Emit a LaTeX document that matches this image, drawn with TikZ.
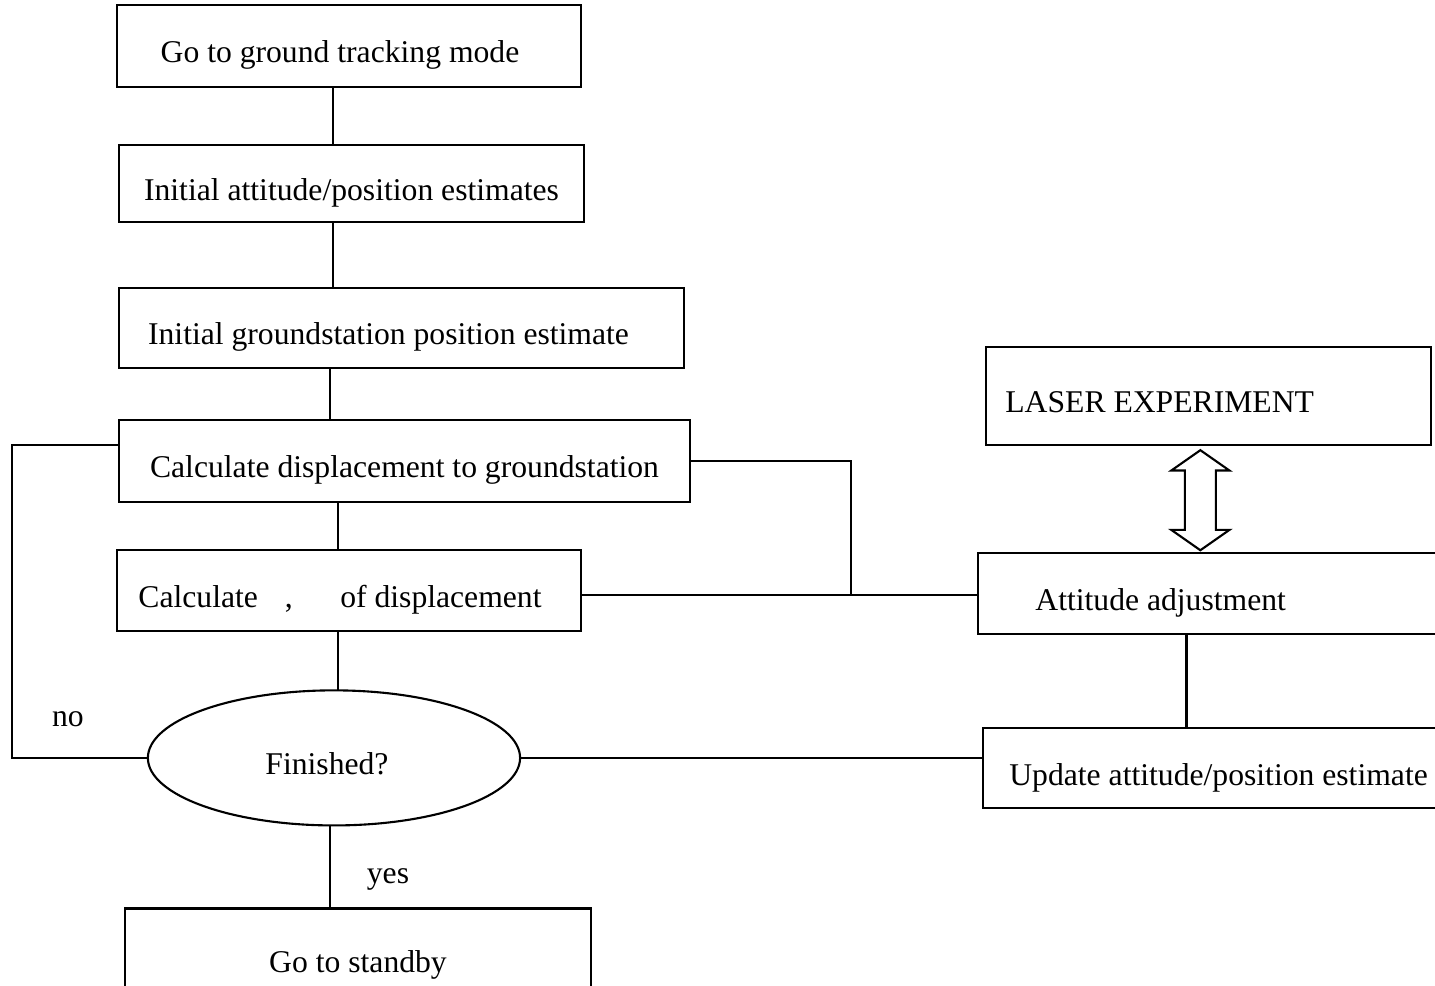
\documentclass[tikz,border=0pt]{standalone}
\usepackage{fontspec}
\setmainfont{Liberation Serif}
\usepackage{tikz}
\usetikzlibrary{positioning, shapes.geometric, shapes.arrows, calc}
\tikzset{
    base/.style={
        font=\fontsize{9}{11}\selectfont,
        align=center
    },
    box/.style={
        base,
        rectangle,
        draw=black,
        line width=0.6pt,
        inner sep=0pt,
        outer sep=0pt,
        text height=1.2em,
        text depth=0.25em
    },
    sidebox/.style={
        box,
        anchor=west
    },
    decision/.style={
        base,
        ellipse,
        draw=black,
        line width=0.6pt,
        inner sep=0pt,
        outer sep=0pt,
        text height=1.2em,
        text depth=0.25em
    },
    swap/.style={
        double arrow,
        draw=black,
        line width=0.6pt,
        inner xsep=0pt,
        inner ysep=0.145cm,
        outer sep=0pt,
        rotate=90,
        minimum height=1cm,
        double arrow head extend=0.135cm,
        double arrow tip angle=110
    },
    link/.style={
        line width=0.6pt,
        color=black
    },
    note/.style={
        base,
        inner sep=1pt
    }
}

\begin{document}
\begin{tikzpicture}[x=0.01cm, y=-0.01cm]
  \useasboundingbox (0,0) rectangle (1435,986);
  \clip (0,0) rectangle (1435,986);

  % Main column
  \node[box, minimum width=4.64cm, minimum height=0.82cm] (goto) at (349,46) {Go to ground tracking mode\hspace{0.18cm}};
  \node[box, minimum width=4.65cm, minimum height=0.77cm, below=0.58cm of goto, xshift=0.025cm] (initatt) {Initial attitude/position estimates};
  \node[box, minimum width=5.65cm, minimum height=0.80cm, below=0.66cm of initatt, xshift=0.50cm] (initgs) {Initial groundstation position estimate\hspace{0.26cm}};
  \node[box, minimum width=5.71cm, minimum height=0.82cm, below=0.52cm of initgs, xshift=0.03cm] (calcdisp) {Calculate displacement to groundstation};
  \node[box, minimum width=4.64cm, minimum height=0.81cm, below=0.48cm of calcdisp, xshift=-0.555cm] (calcang) {Calculate\hspace{0.85em},\hspace{1.5em}of displacement\hspace{0.18cm}};
  \node[decision, minimum width=3.72cm, minimum height=1.35cm, below=0.59cm of calcang, xshift=-0.15cm] (finished) {Finished?\hspace{0.14cm}};
  \node[box, minimum width=4.66cm, minimum height=0.94cm, below=0.83cm of finished, xshift=0.24cm] (standby) {Go to standby};

  % Side column
  \node[sidebox, inner xsep=0.57cm, minimum height=0.81cm, right=3.97cm of calcang, yshift=-0.03cm] (attadj) {\makebox[3.6cm][l]{Attitude adjustment}};
  \node[sidebox, inner xsep=0.26cm, minimum height=0.80cm, below=0.94cm of attadj.south west, anchor=north west, xshift=0.05cm] (update) {\makebox[4.4cm][l]{Update attitude/position estimate}};
  \node[sidebox, inner xsep=0.19cm, minimum height=0.98cm, above=1.08cm of attadj.north west, anchor=south west, xshift=0.08cm] (laser) {\makebox[4.06cm][l]{LASER EXPERIMENT}};
  \node[swap] (exch) at ($(laser.south west)+(214,55)$) {};

  % Connections
  \draw[link] ([xshift=-0.16cm]goto.south) coordinate (a1) -- (a1 |- initatt.north);
  \draw[link] ([xshift=-0.185cm]initatt.south) coordinate (a2) -- (a2 |- initgs.north);
  \draw[link] ([xshift=-0.715cm]initgs.south) coordinate (a3) -- (a3 |- calcdisp.north);
  \draw[link] ([xshift=-0.665cm]calcdisp.south) coordinate (a4) -- (a4 |- calcang.north);
  \draw[link] ([xshift=-0.11cm]calcang.south) coordinate (a5) -- (a5 |- finished.north);
  \draw[link] ([xshift=-0.04cm]finished.south) coordinate (a6) -- (a6 |- standby.north);
  \draw[link] (finished.west) -- ++(-136,0) |- ([yshift=0.16cm]calcdisp.west);
  \draw[link] ([yshift=-0.045cm]calcang.east) coordinate (a8) -- (a8 -| attadj.west);
  \coordinate (join) at ($(a8)!0.68!(a8 -| attadj.west)$);
  \draw[link] (calcdisp.east) -| (join);
  \draw[link] ([xshift=2.08cm]attadj.south west) coordinate (a7) -- (a7 |- update.north);
  \draw[link] (finished.east) -- (finished.east -| update.west);

  % Annotations
  \node[note] (no) at ($(finished.west)+(-80,-39)$) {no};
  \node[note] (yes) at ($(finished.south)+(54,54)$) {yes};
\end{tikzpicture}
\end{document}
